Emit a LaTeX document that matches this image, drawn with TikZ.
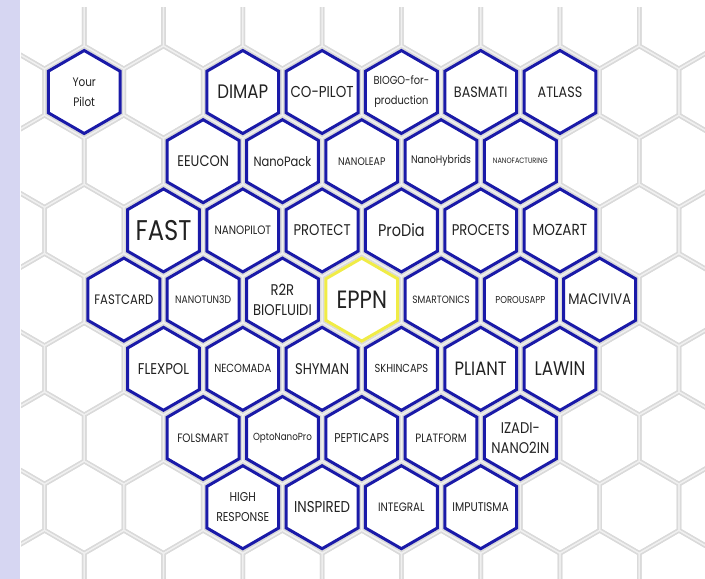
\documentclass[tikz,border=0pt]{standalone}
\usepackage{fontspec}
\setmainfont{Poppins}[FakeStretch=0.85]
\usetikzlibrary{shapes.geometric}
\definecolor{hexblue}{RGB}{26,26,168}
\definecolor{hexyellow}{RGB}{240,236,70}
\definecolor{sidebar}{RGB}{214,214,242}
\definecolor{gridgray}{RGB}{218,218,218}
\definecolor{gridlight}{RGB}{240,240,240}
\definecolor{hextext}{RGB}{34,34,34}
\newcommand{\fs}[1]{\fontsize{#1}{20}\selectfont}
\tikzset{
  hexcell/.style 2 args={regular polygon, regular polygon sides=6, regular polygon rotate=30,
    minimum size=83pt, inner sep=0pt, draw=hexblue, line width=3pt, fill=white,
    label={[font=\fs{#1}, text=hextext, align=center, inner sep=0pt]center:#2}},
  hexmain/.style 2 args={hexcell={#1}{#2}, draw=hexyellow},
  gridline/.style={draw=gridgray, line width=4.6pt, line join=round},
  gridcore/.style={draw=gridlight, line width=1.2pt, line join=round}
}

\begin{document}
\begin{tikzpicture}[x=79.3pt, y=-69.2pt]
	\useasboundingbox (-4.9pt,92pt) rectangle (700.1pt,-487pt);
	% Background: side bar and honeycomb
	\fill[sidebar] (-4.9pt,92pt) rectangle (15.1pt,-487pt);
	\begin{scope}
		\clip (16.1pt,85pt) rectangle (700.1pt,-487pt);
		\foreach \s in {gridline, gridcore}
			\foreach \j in {-2,...,8}
				\foreach \k in {-1,...,10} {
					\pgfmathsetmacro{\xc}{\k-0.5*mod(\j+20,2)}
					\path[\s] (\xc,\j-2/3) -- (\xc+0.5,\j-1/3) -- (\xc+0.5,\j+1/3)
						-- (\xc,\j+2/3) -- (\xc-0.5,\j+1/3) -- (\xc-0.5,\j-1/3) -- cycle;
				}
	\end{scope}
	% Row 1:
	\node[hexcell={12.3}{Your\\Pilot}] (yourpilot) at (1,0) {};
	\node[hexcell={19.5}{DIMAP}] (dimap) at (3,0) {};
	\node[hexcell={15.8}{CO-PILOT}] (copilot) at (4,0) {};
	\node[hexcell={11.6}{BIOGO-for-\\production}] (biogo) at (5,0) {};
	\node[hexcell={15}{BASMATI}] (basmati) at (6,0) {};
	\node[hexcell={15}{ATLASS}] (atlass) at (7,0) {};
	% Row 2:
	\node[hexcell={15.3}{EEUCON}] (eeucon) at (2.5,1) {};
	\node[hexcell={13.5}{NanoPack}] (nanopack) at (3.5,1) {};
	\node[hexcell={11}{NANOLEAP}] (nanoleap) at (4.5,1) {};
	\node[hexcell={11}{NanoHybrids}] (nanohybrids) at (5.5,1) {};
	\node[hexcell={7.7}{NANOFACTURING}] (nanofacturing) at (6.5,1) {};
	% Row 3:
	\node[hexcell={28.5}{FAST}] (fast) at (2,2) {};
	\node[hexcell={12.2}{NANOPILOT}] (nanopilot) at (3,2) {};
	\node[hexcell={15.5}{PROTECT}] (protect) at (4,2) {};
	\node[hexcell={17}{ProDia}] (prodia) at (5,2) {};
	\node[hexcell={15.5}{PROCETS}] (procets) at (6,2) {};
	\node[hexcell={16}{MOZART}] (mozart) at (7,2) {};
	% Row 4:
	\node[hexcell={13.7}{FASTCARD}] (fastcard) at (1.5,3) {};
	\node[hexcell={10.8}{NANOTUN3D}] (nanotun) at (2.5,3) {};
	\node[hexcell={15.5}{R2R\\BIOFLUIDI}] (rtor) at (3.5,3) {};
	\node[hexmain={25}{EPPN}] (eppn) at (4.5,3) {};
	\node[hexcell={10.6}{SMARTONICS}] (smartonics) at (5.5,3) {};
	\node[hexcell={10}{POROUSAPP}] (porousapp) at (6.5,3) {};
	\node[hexcell={15.3}{MACIVIVA}] (maciviva) at (7.5,3) {};
	% Row 5:
	\node[hexcell={15.6}{FLEXPOL}] (flexpol) at (2,4) {};
	\node[hexcell={11.8}{NECOMADA}] (necomada) at (3,4) {};
	\node[hexcell={15.5}{SHYMAN}] (shyman) at (4,4) {};
	\node[hexcell={11.6}{SKHINCAPS}] (skhincaps) at (5,4) {};
	\node[hexcell={19.3}{PLIANT}] (pliant) at (6,4) {};
	\node[hexcell={19.7}{LAWIN}] (lawin) at (7,4) {};
	% Row 6:
	\node[hexcell={12.2}{FOLSMART}] (folsmart) at (2.5,5) {};
	\node[hexcell={10.3}{OptoNanoPro}] (optonanopro) at (3.5,5) {};
	\node[hexcell={12.7}{PEPTICAPS}] (pepticaps) at (4.5,5) {};
	\node[hexcell={12.1}{PLATFORM}] (platform) at (5.5,5) {};
	\node[hexcell={15.5}{IZADI-\\NANO2IN}] (izadi) at (6.5,5) {};
	% Row 7:
	\node[hexcell={12.8}{HIGH\\RESPONSE}] (highresponse) at (3,6) {};
	\node[hexcell={15.7}{INSPIRED}] (inspired) at (4,6) {};
	\node[hexcell={12.2}{INTEGRAL}] (integral) at (5,6) {};
	\node[hexcell={12.6}{IMPUTISMA}] (imputisma) at (6,6) {};
\end{tikzpicture}
\end{document}
